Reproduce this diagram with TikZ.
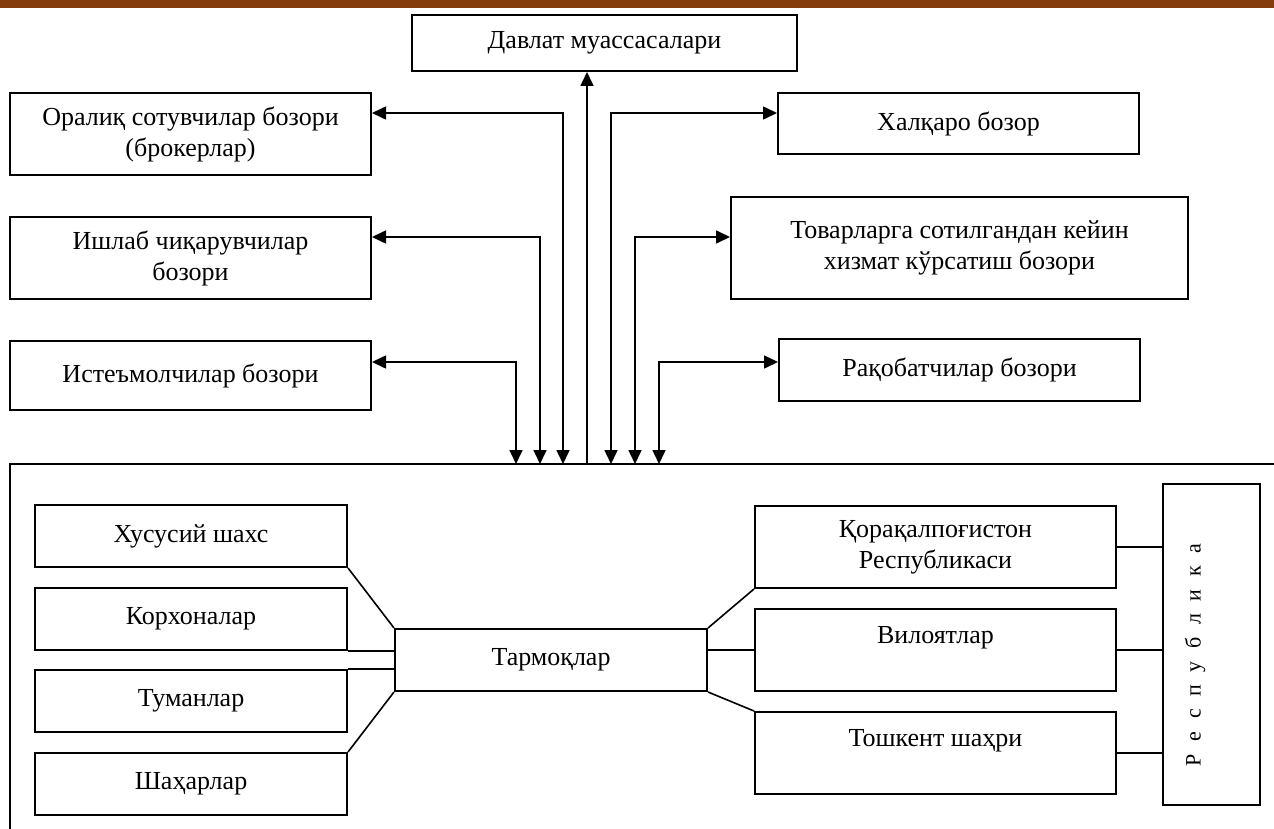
\documentclass[tikz,border=0pt]{standalone}
\usepackage{fontspec}
\setmainfont{Liberation Serif}
\usetikzlibrary{arrows.meta,positioning}
\definecolor{barbrown}{RGB}{132,60,12}

\begin{document}
\begin{tikzpicture}[
  x=0.5pt, y=-0.5pt,
  market/.style={rectangle, draw, line width=1pt, inner sep=2pt, align=center,
    font=\fontsize{13}{15.5}\selectfont},
  link/.style={line width=0.8pt},
  >={Triangle[length=7pt, width=6.5pt]}
]
  \useasboundingbox (0,0) rectangle (1274,829);
  \fill[barbrown] (0,0) rectangle (1274,8);

  % markets round the network
  \node[market, minimum width=192.5pt, minimum height=28pt] (davlat) at (604.5,43) {Давлат муассасалари};
  \node[market, minimum width=180.5pt, minimum height=41pt] (oraliq) at (190.5,134) {Оралиқ сотувчилар бозори\\(брокерлар)};
  \node[market, minimum width=180.5pt, minimum height=41pt] (ishlab) at (190.5,258) {Ишлаб чиқарувчилар\\бозори};
  \node[market, minimum width=180.5pt, minimum height=34.5pt] (istemol) at (190.5,375.5) {Истеъмолчилар бозори};
  \node[market, minimum width=180.5pt, minimum height=30.5pt] (halqaro) at (958.5,123.5) {Халқаро бозор};
  \node[market, minimum width=228.5pt, minimum height=51pt] (tovar) at (959.5,248) {Товарларга сотилгандан кейин\\хизмат кўрсатиш бозори};
  \node[market, minimum width=180.5pt, minimum height=31pt] (raqobat) at (959.5,370) {Рақобатчилар бозори};

  % network frame
  \draw[link] (1274,464) -- (10,464) -- (10,829);
  \foreach \n/\x in {1/516,2/540,3/563,4/587,5/611,6/635,7/659}
    \coordinate (tap\n) at (\x,464);

  \draw[link,<->] ([yshift=6.75pt]istemol.east) -| (tap1);
  \draw[link,<->] ([yshift=10.5pt]ishlab.east) -| (tap2);
  \draw[link,<->] ([yshift=10.5pt]oraliq.east) -| (tap3);
  \draw[link,->] (tap4) -- (tap4 |- davlat.south);
  \draw[link,<->] ([yshift=5.25pt]halqaro.west) -| (tap5);
  \draw[link,<->] ([yshift=5.5pt]tovar.west) -| (tap6);
  \draw[link,<->] ([yshift=4pt]raqobat.west) -| (tap7);

  % inside the network
  \node[market, minimum width=156pt, minimum height=31pt] (xususiy) at (191,536) {Хусусий шахс};
  \node[market, minimum width=156pt, minimum height=31pt] (korxona) at (191,619) {Корхоналар};
  \node[market, minimum width=156pt, minimum height=31pt] (tuman) at (191,701) {Туманлар};
  \node[market, minimum width=156pt, minimum height=31pt] (shahar) at (191,784) {Шаҳарлар};
  \node[market, minimum width=156pt, minimum height=31pt] (tarmoq) at (551,660) {Тармоқлар};
  \node[market, minimum width=180.5pt, minimum height=41pt] (qoraq) at (935.5,547) {Қорақалпоғистон\\Республикаси};
  \node[market, minimum width=180.5pt, minimum height=41pt] (viloyat) at (935.5,650) {Вилоятлар\\\mbox{}};
  \node[market, minimum width=180.5pt, minimum height=41pt] (toshkent) at (935.5,753) {Тошкент шаҳри\\\mbox{}};
  \node[market, minimum width=48.5pt, minimum height=160.5pt] (resp) at (1211.5,644.5) {};
  \node[rotate=90, font=\fontsize{11}{13}\selectfont] (resptext) at (1195,655) {\spaceskip=6.3pt Р е с п у б л и к а};

  \draw[link] (xususiy.south east) -- (tarmoq.north west);
  \draw[link] (korxona.south east) -- (korxona.south east -| tarmoq.west);
  \draw[link] (tuman.north east) -- (tuman.north east -| tarmoq.west);
  \draw[link] (shahar.north east) -- (tarmoq.south west);
  \draw[link] (tarmoq.north east) -- (qoraq.south west);
  \draw[link] (viloyat.west -| tarmoq.east) -- (viloyat.west);
  \draw[link] (tarmoq.south east) -- (toshkent.north west);
  \foreach \b in {qoraq,viloyat,toshkent}
    \draw[link] (\b.east) -- (\b.east -| resp.west);
\end{tikzpicture}
\end{document}
